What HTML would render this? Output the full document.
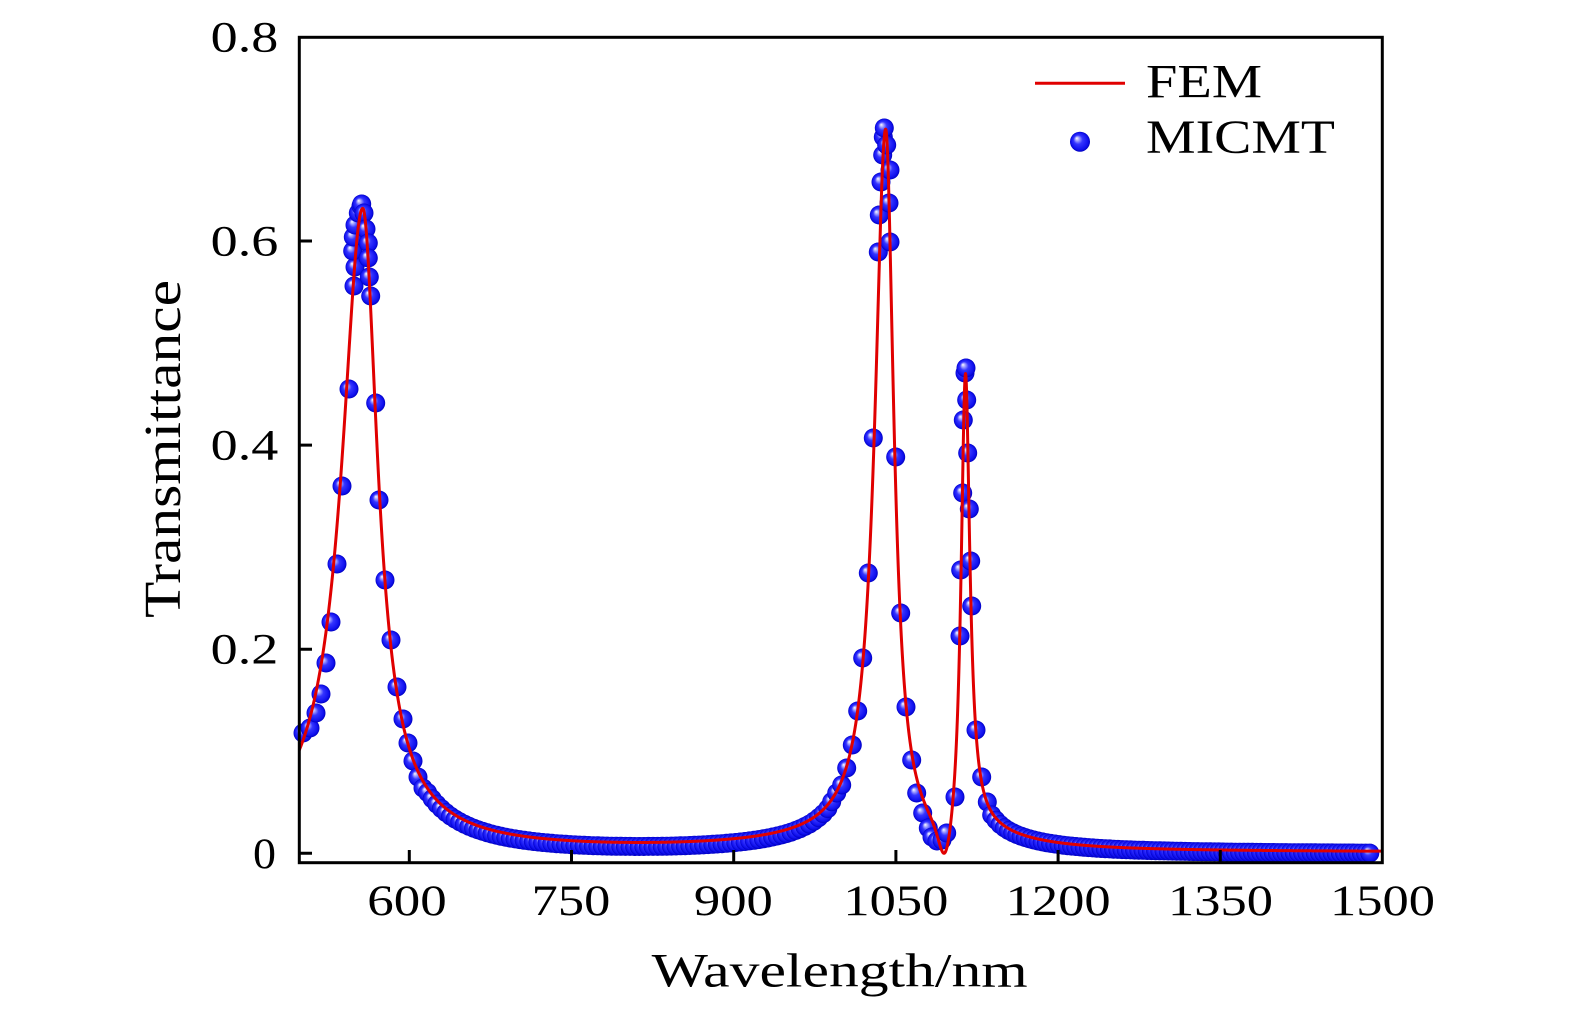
<!DOCTYPE html>
<html><head><meta charset="utf-8"><style>
html,body{margin:0;padding:0;background:#fff;}
svg{display:block}
text{font-family:"Liberation Serif","DejaVu Serif",serif;fill:#000}
</style></head><body>
<svg id="s" width="1575" height="1014" viewBox="0 0 1575 1014">
<defs>
<radialGradient id="g" cx="0.5" cy="0.5" r="0.5" fx="0.33" fy="0.32">
<stop offset="0" stop-color="#ffffff"/>
<stop offset="0.16" stop-color="#b4b4ff"/>
<stop offset="0.45" stop-color="#3535ff"/>
<stop offset="0.85" stop-color="#1010ee"/>
<stop offset="1" stop-color="#0000c0"/>
</radialGradient>
</defs>
<rect x="0" y="0" width="1575" height="1014" fill="#fff"/>
<g id="pts"></g>
<path id="ln" fill="none" stroke="#e00000" stroke-width="3" stroke-linejoin="round"/>
<rect x="299.3" y="37.3" width="1083" height="825.4" fill="none" stroke="#000" stroke-width="3"/>
<path d="M299.3 853.3H312M299.3 649.2H312M299.3 445.1H312M299.3 241H312M409.3 862.7V850M571.5 862.7V850M733.7 862.7V850M895.9 862.7V850M1058.1 862.7V850M1220.3 862.7V850" stroke="#000" stroke-width="3" fill="none"/>
<g font-size="43">
<text x="210.7" y="51.4" textLength="67.6" lengthAdjust="spacingAndGlyphs">0.8</text>
<text x="210.7" y="255.5" textLength="67.6" lengthAdjust="spacingAndGlyphs">0.6</text>
<text x="210.7" y="459.6" textLength="67.6" lengthAdjust="spacingAndGlyphs">0.4</text>
<text x="210.7" y="663.7" textLength="67.6" lengthAdjust="spacingAndGlyphs">0.2</text>
<text x="253" y="867.8" textLength="23" lengthAdjust="spacingAndGlyphs">0</text>
<text x="367.3" y="915" textLength="79.4" lengthAdjust="spacingAndGlyphs">600</text>
<text x="531.7" y="915" textLength="78.6" lengthAdjust="spacingAndGlyphs">750</text>
<text x="693.9" y="915" textLength="79" lengthAdjust="spacingAndGlyphs">900</text>
<text x="843.4" y="915" textLength="105" lengthAdjust="spacingAndGlyphs">1050</text>
<text x="1005.6" y="915" textLength="105" lengthAdjust="spacingAndGlyphs">1200</text>
<text x="1168" y="915" textLength="105" lengthAdjust="spacingAndGlyphs">1350</text>
<text x="1330" y="915" textLength="105" lengthAdjust="spacingAndGlyphs">1500</text>
</g>
<text x="651.7" y="986.7" font-size="48" textLength="376" lengthAdjust="spacingAndGlyphs">Wavelength/nm</text>
<text transform="translate(180,618) rotate(-90)" x="0" y="0" font-size="52" textLength="338" lengthAdjust="spacingAndGlyphs">Transmittance</text>
<line x1="1035" y1="83.3" x2="1125" y2="83.3" stroke="#e00000" stroke-width="3"/>
<circle cx="1080" cy="141.7" r="10" fill="url(#g)"/>
<text x="1146" y="97.7" font-size="48" textLength="116" lengthAdjust="spacingAndGlyphs">FEM</text>
<text x="1146" y="153" font-size="48" textLength="189" lengthAdjust="spacingAndGlyphs">MICMT</text>
</svg>
<script>
(function(){
var svg=document.getElementById('s');var ns=svg.namespaceURI;
function lor(x,x0,A,wl,wr){var w=x<x0?wl:wr;var d=(x-x0)/w;return A/(1+d*d);}
function T(x){var s=0.001;
s+=lor(x,362.7,0.60,25,18);
s+=lor(x,362.7,0.03,80,80);
s+=lor(x,885.7,0.713,13,10);
s+=lor(x,885.7,0.012,130,30);
s+=lor(x,965.3,0.543,5.5,5.2);
s+=lor(x,965.3,0.015,15,60);
var dd=(x-944)*(x-944);s*=dd/(dd+100);return s;}
function Y(t){return 853.3-t*1020.5;}
var d='';
for(var x=299.3;x<=1382.3;x+=0.25){d+=(d?'L':'M')+x.toFixed(2)+' '+Y(T(x)).toFixed(2);}
document.getElementById('ln').setAttribute('d',d);
var all=[];
var p1=[[303,733],[310,728],[316,713],[321,694],[326,663],[331,622],[337,564],[342,486],[349,389],
[354,286],[355,267],[352.7,251],[353.3,237],[355,225],[358.3,213],[361,206],[361.7,204],
[364,213],[366,229],[368.3,243],[368.3,258],[369.3,277],[370.7,296],
[375.7,403],[379,500],[385,580],[391,640],[397,687],[403,719],[408,743],[413,761],[418,777],[423,788]];
all=all.concat(p1);
for(var x=427.6;x<828;x+=4.6){all.push([x,Y(T(x))+4]);}
var p2=[[831.7,801.7],[836.7,793],[841.7,785],[846.7,768],[852.3,745],[857.7,711],[862.7,658],[868.3,573],[873.3,438],
[878.3,252],[879.3,215],[881,182],[882.7,155],[883.3,137],[884.3,128],[886.7,145],[890,170],[889,203],[890,242],
[895.7,457],[900.7,613],[906,707],[911.7,760],[916.7,793],[922.7,813],[928.3,828],[932,837],[937,841],[942,840],[946.7,833],
[955,797],[960,636],[960.7,570],[962.7,493],[963.3,420],[965,373],[966,368],[966.7,400],[967.7,453],[969.3,509],[970.7,561],[971.7,606],
[976,730],[981.7,777],[987.3,802],[991.7,815]];
all=all.concat(p2);
for(var x=996;x<1374;x+=4.2){all.push([x,Y(T(x))+2]);}
var g=document.getElementById('pts');
for(var i=0;i<all.length;i++){
var c=document.createElementNS(ns,'circle');
c.setAttribute('cx',all[i][0].toFixed(1));
c.setAttribute('cy',all[i][1].toFixed(1));
c.setAttribute('r','9.5');
c.setAttribute('fill','url(#g)');
g.appendChild(c);
}
})();
</script>
</body></html>
